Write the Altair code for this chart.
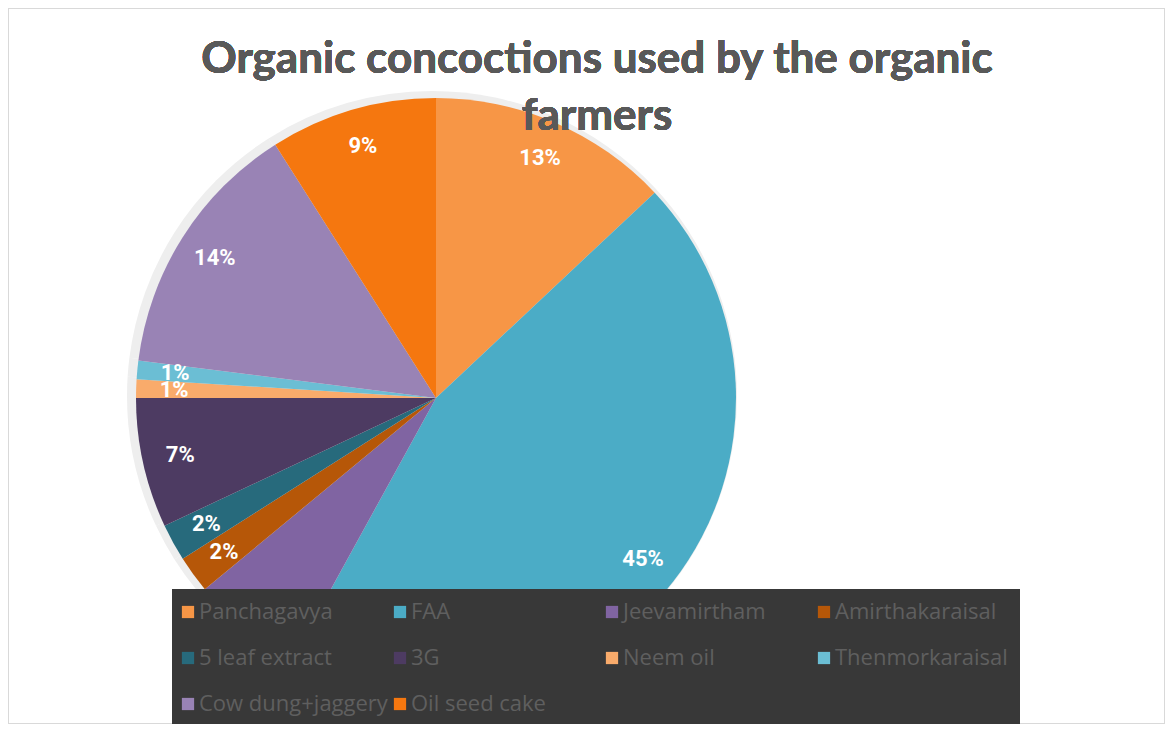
import altair as alt
import pandas as pd

labels = ["Panchagavya", "FAA", "Jeevamirtham", "Amirthakaraisal", "5 leaf extract",
          "3G", "Neem oil", "Thenmorkaraisal", "Cow dung+jaggery", "Oil seed cake"]
values = [13, 45, 6, 2, 2, 7, 1, 1, 14, 9]
colors = ["#F79646", "#4BACC6", "#8064A2", "#B65708", "#276A7C",
          "#4D3B62", "#F9AB6B", "#6BBED4", "#9983B5", "#F5770F"]
title_lines = ["Organic concoctions used by the organic", "farmers"]

df = pd.DataFrame({
    "label": labels,
    "value": values,
    "idx": list(range(len(labels))),
    "pct": [f"{v}%" for v in values],
})

CX, CY, R = 428, 390, 300

base = alt.Chart(df).encode(
    theta=alt.Theta("value:Q", stack=True),
    order=alt.Order("idx:Q"),
)

shadow = base.mark_arc(outerRadius=R + 5, color="#eeeeee").encode(
    x=alt.value(CX - 4), y=alt.value(CY - 2)
)

pie = base.mark_arc(outerRadius=R).encode(
    x=alt.value(CX), y=alt.value(CY),
    color=alt.Color(
        "label:N",
        scale=alt.Scale(domain=labels, range=colors),
        sort=labels,
        legend=alt.Legend(
            orient="none", legendX=164, legendY=581,
            columns=4, direction="horizontal", gridAlign="all",
            symbolType="square", symbolSize=150, symbolStrokeWidth=0,
            symbolOffset=-7,
            labelFont="Open Sans", labelFontSize=22, labelColor="#5f5f5f",
            labelLimit=400, labelOffset=0,
            fillColor="#383838", padding=12,
            columnPadding=5, rowPadding=24, title=None,
        ),
    ),
)

text = base.mark_text(
    radius=262, font="Roboto", fontWeight="bold", fontSize=22, color="white"
).encode(x=alt.value(CX), y=alt.value(CY), text="pct:N")

title = alt.Chart(df).mark_text(
    font="Lato", fontWeight="bold", fontSize=44, color="#595959", align="center",
    baseline="top", lineHeight=57,
).encode(x=alt.value(589), y=alt.value(30), text=alt.value(title_lines))

chart = alt.layer(shadow, pie, text, title).properties(
    width=1157, height=716,
    autosize=alt.AutoSizeParams(type="fit", contains="padding"),
    padding=0,
).configure_view(stroke="#d9d9d9", strokeWidth=2)

chart.save("out.html", embed_options={"renderer": "svg", "actions": False})
